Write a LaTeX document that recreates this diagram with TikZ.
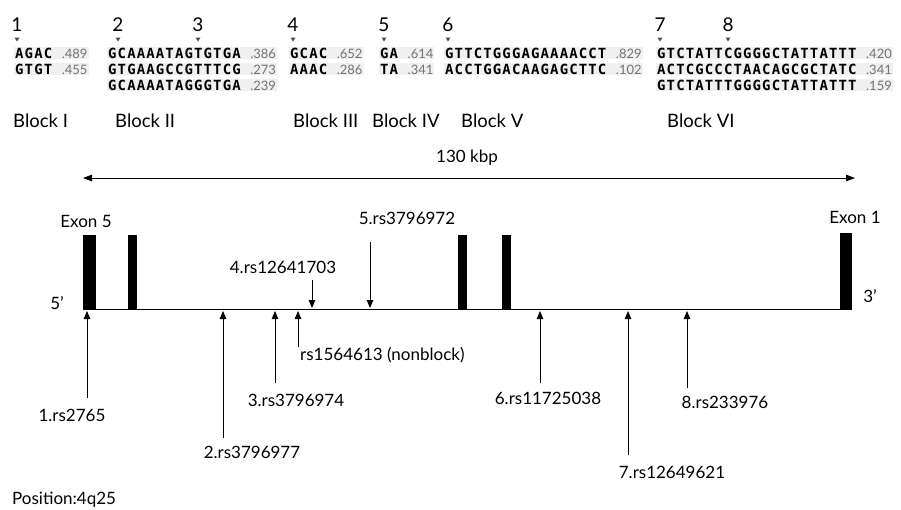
\documentclass[tikz,border=0pt]{standalone}
\usepackage{fontspec}
\setmainfont{Lato}
\newfontfamily\seqfont{DejaVu Sans Mono}[LetterSpace=8]
\usetikzlibrary{arrows.meta,positioning}
\newcommand{\seqent}[2]{#1\ {\rmfamily\mdseries\color{black!55}\fontsize{13}{14}\selectfont #2}}
\tikzset{
  lab/.style={font=\fontsize{17}{20}\selectfont, inner sep=0pt},
  blk/.style={font=\fontsize{18.5}{22}\selectfont, anchor=west, inner sep=0pt},
  num/.style={font=\fontsize{19}{22}\selectfont, inner sep=0pt},
  seq/.style={font=\seqfont\bfseries\fontsize{14}{15}\selectfont, anchor=west,
    fill=gray!12, inner sep=1pt},
  exon/.style={fill=black, inner sep=0pt, anchor=south},
  snp/.style={line width=0.8pt, -{Triangle[length=8pt,width=6.5pt]}},
}
\begin{document}
\begin{tikzpicture}[x=1pt,y=-1pt]
  \useasboundingbox (0,0) rectangle (901,509);
  % Numeri degli SNP e segni
  \foreach \x [count=\i] in {17,118,198,293,384,448,660,728} {
    \node[num] (n\i) at (\x,25) {\i};
    \fill[gray!60!black] (\x-2.5,37.5) -- (\x+2.5,37.5) -- (\x,41.5) -- cycle;
  }
  % Aplotipi dei blocchi
  \node[seq] (s11) at (14,53) {\seqent{AGAC}{.489}};
  \node[seq] (s12) at (107,53) {\seqent{GCAAAATAGTGTGA}{.386}};
  \node[seq] (s13) at (289,53) {\seqent{GCAC}{.652}};
  \node[seq] (s14) at (379,53) {\seqent{GA}{.614}};
  \node[seq] (s15) at (444,53) {\seqent{GTTCTGGGAGAAAACCT}{.829}};
  \node[seq] (s16) at (656,53) {\seqent{GTCTATTCGGGGCTATTATTT}{.420}};
  \node[seq] (s21) at (14,69) {\seqent{GTGT}{.455}};
  \node[seq] (s22) at (107,69) {\seqent{GTGAAGCCGTTTCG}{.273}};
  \node[seq] (s23) at (289,69) {\seqent{AAAC}{.286}};
  \node[seq] (s24) at (379,69) {\seqent{TA}{.341}};
  \node[seq] (s25) at (444,69) {\seqent{ACCTGGACAAGAGCTTC}{.102}};
  \node[seq] (s26) at (656,69) {\seqent{ACTCGCCCTAACAGCGCTATC}{.341}};
  \node[seq] (s32) at (107,85) {\seqent{GCAAAATAGGGTGA}{.239}};
  \node[seq] (s36) at (656,85) {\seqent{GTCTATTTGGGGCTATTATTT}{.159}};
  % Nomi dei blocchi
  \node[blk] (b1) at (13,121) {Block I};
  \node[blk] (b2) at (115,121) {Block II};
  \node[blk] (b3) at (293,121) {Block III};
  \node[blk] (b4) at (372,121) {Block IV};
  \node[blk] (b5) at (461,121) {Block V};
  \node[blk] (b6) at (667,121) {Block VI};
  % Lunghezza
  \coordinate (kl) at (83,178);
  \coordinate (kr) at (855,178);
  \draw[line width=0.8pt, {Triangle[length=9pt,width=6.5pt]}-{Triangle[length=9pt,width=6.5pt]}] (kl) -- (kr);
  \node[lab] (kb) at (467,158) {130 kbp};
  % Esoni e gene
  \node[exon, minimum width=13pt, minimum height=74pt] (e5) at (89.5,309.5) {};
  \node[exon, minimum width=9pt, minimum height=74pt] (e4) at (132.5,309.5) {};
  \node[exon, minimum width=9pt, minimum height=74pt] (e3) at (462.5,309.5) {};
  \node[exon, minimum width=9pt, minimum height=74pt] (e2) at (506.5,309.5) {};
  \node[exon, minimum width=12pt, minimum height=76pt] (e1) at (846,309.5) {};
  \draw[line width=1pt] (e5.south west) -- (e1.south east);
  \node[lab] (x5) at (86,221) {Exon 5};
  \node[lab] (x1) at (855,217) {Exon 1};
  \node[lab] (p5) at (57,303) {5’};
  \node[lab] (p3) at (870,296) {3’};
  % SNP sotto il gene
  \coordinate (a1) at (87,311);  \coordinate (t1) at (87,398);
  \coordinate (a2) at (223,311); \coordinate (t2) at (223,438);
  \coordinate (a3) at (275,311); \coordinate (t3) at (275,383);
  \coordinate (an) at (298,311); \coordinate (tn) at (298,347);
  \coordinate (a6) at (540,311); \coordinate (t6) at (540,383);
  \coordinate (a7) at (628,311); \coordinate (t7) at (628,455);
  \coordinate (a8) at (687,311); \coordinate (t8) at (687,388);
  \foreach \k in {1,2,3,n,6,7,8} \draw[snp] (t\k) -- (a\k);
  \node[lab] (r1) at (72,415) {1.rs2765};
  \node[lab] (r2) at (252,452) {2.rs3796977};
  \node[lab] (r3) at (296,400) {3.rs3796974};
  \node[lab, anchor=west] (rn) at (300,355) {rs1564613 (nonblock)};
  \node[lab] (r6) at (548,398) {6.rs11725038};
  \node[lab] (r7) at (672,472) {7.rs12649621};
  \node[lab] (r8) at (725,402) {8.rs233976};
  % SNP sopra il gene
  \coordinate (a4) at (312,308); \coordinate (t4) at (312,280);
  \coordinate (a5) at (370,308); \coordinate (t5) at (370,242);
  \draw[snp] (t4) -- (a4);
  \draw[snp] (t5) -- (a5);
  \node[lab] (r4) at (283,267) {4.rs12641703};
  \node[lab] (r5) at (407,218) {5.rs3796972};
  % Posizione
  \node[lab, anchor=west] (pos) at (12,500) {Position:4q25};
\end{tikzpicture}
\end{document}
